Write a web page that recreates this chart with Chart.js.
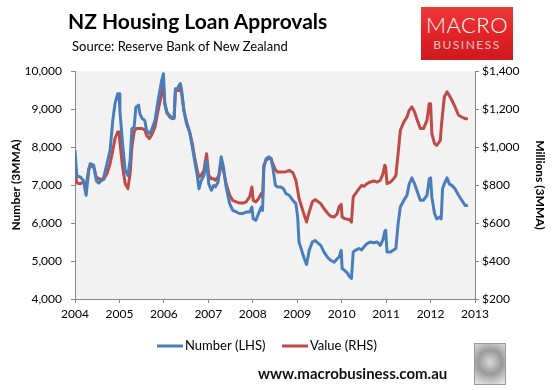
<!DOCTYPE html>
<html>
<head>
<meta charset="utf-8">
<script src="https://cdn.jsdelivr.net/npm/chart.js@4.4.1/dist/chart.umd.min.js"></script>
<style>
  body { margin: 0; background: #fff; }
  #wrap { position: relative; width: 553px; height: 390px; font-family: Lato, "Open Sans", sans-serif; color: #000; }
  #chart { position: absolute; left: 0; top: 0; }
  #title { position: absolute; left: 68px; top: 8px; font-size: 21px; font-weight: bold; white-space: nowrap; }
  #source { position: absolute; left: 72px; top: 38px; font-size: 13px; white-space: nowrap; }
  #logo { position: absolute; left: 421px; top: 7px; width: 92px; height: 53px;
          background: linear-gradient(180deg, #ee3a3a 0%, #e02126 55%, #cf1a1f 100%); text-align: center; }
  #logo .m { color: #fff; font-size: 22px; font-weight: 300; letter-spacing: 0.5px; margin-top: 7px; line-height: 22px; }
  #logo .b { color: #f6c2c2; font-size: 12px; letter-spacing: 1.5px; line-height: 14px; margin-top: 2px; }
  #site { position: absolute; left: 258px; top: 364px; font-size: 15px; font-weight: bold; white-space: nowrap; color: #111; }
  #wolf { position: absolute; left: 474px; top: 343px; width: 30px; height: 40px; border: 1px solid #9a9a9a;
          background: radial-gradient(circle at 50% 45%, #d8d8d8 0%, #9a9a9a 45%, #c8c8c8 75%, #eee 100%); }
</style>
</head>
<body>
<div id="wrap">
  <canvas id="chart" width="553" height="390"></canvas>
  <div id="title">NZ Housing Loan Approvals</div>
  <div id="source">Source: Reserve Bank of New Zealand</div>
  <div id="logo"><div class="m">MACRO</div><div class="b">BUSINESS</div></div>
  <div id="site">www.macrobusiness.com.au</div>
  <div id="wolf"></div>
</div>
<script>
// ===========================
// Data (3-month moving averages)
const years = [
  2004.00, 2004.04, 2004.12, 2004.19, 2004.25, 2004.31, 2004.34, 2004.42, 2004.48, 2004.53,
  2004.64, 2004.72, 2004.79, 2004.85, 2004.90, 2004.96, 2004.99, 2005.01, 2005.07, 2005.13,
  2005.19, 2005.24, 2005.28, 2005.33, 2005.37, 2005.43, 2005.46, 2005.51, 2005.57, 2005.61,
  2005.67, 2005.72, 2005.80, 2005.87, 2005.95, 2005.99, 2006.02, 2006.07, 2006.13, 2006.19,
  2006.23, 2006.26, 2006.30, 2006.34, 2006.37, 2006.40, 2006.45, 2006.51, 2006.58, 2006.64,
  2006.69, 2006.75, 2006.79, 2006.84, 2006.90, 2006.96, 2007.01, 2007.07, 2007.12, 2007.16,
  2007.22, 2007.25, 2007.29, 2007.34, 2007.40, 2007.48, 2007.55, 2007.63, 2007.70, 2007.78,
  2007.85, 2007.93, 2007.98, 2008.01, 2008.07, 2008.13, 2008.19, 2008.22, 2008.25, 2008.30,
  2008.36, 2008.41, 2008.45, 2008.51, 2008.56, 2008.63, 2008.69, 2008.75, 2008.82, 2008.90,
  2008.97, 2009.01, 2009.04, 2009.10, 2009.16, 2009.21, 2009.27, 2009.34, 2009.40, 2009.48,
  2009.53, 2009.60, 2009.68, 2009.75, 2009.83, 2009.90, 2009.94, 2009.99, 2010.01, 2010.07,
  2010.13, 2010.18, 2010.22, 2010.26, 2010.31, 2010.39, 2010.45, 2010.50, 2010.57, 2010.65,
  2010.72, 2010.80, 2010.87, 2010.93, 2010.97, 2010.99, 2011.02, 2011.10, 2011.17, 2011.22,
  2011.27, 2011.32, 2011.40, 2011.47, 2011.52, 2011.58, 2011.64, 2011.69, 2011.77, 2011.84,
  2011.92, 2011.97, 2012.00, 2012.03, 2012.09, 2012.14, 2012.22, 2012.24, 2012.27, 2012.31,
  2012.37, 2012.42, 2012.48, 2012.55, 2012.63, 2012.70, 2012.78, 2012.84
];

const numberLHS = [
  7910, 7250, 7210, 7120, 6730, 7385, 7560, 7520, 7120, 7050,
  7170, 7560, 7910, 8700, 9140, 9400, 9400, 8960, 8090, 7385,
  7250, 7650, 8480, 8520, 9050, 9100, 8880, 8750, 8700, 8440,
  8350, 8440, 8700, 9230, 9750, 9930, 9140, 8880, 8830, 8750,
  8750, 9530, 9530, 9620, 9670, 9490, 8960, 8610, 8390, 8000,
  7650, 7250, 6900, 7120, 7250, 7650, 7030, 6860, 6990, 6950,
  7080, 7385, 7740, 7470, 6950, 6510, 6330, 6290, 6250, 6250,
  6290, 6290, 6420, 6110, 6070, 6250, 6420, 6330, 7470, 7690,
  7740, 7700, 7470, 6990, 6950, 6950, 6900, 6770, 6730, 6600,
  6510, 6160, 5500, 5280, 5060, 4910, 5280, 5500, 5540, 5460,
  5410, 5240, 5100, 5020, 4970, 5060, 5100, 5280, 4800, 4750,
  4680, 4580, 4540, 5240, 5280, 5330, 5290, 5370, 5460, 5500,
  5480, 5500, 5410, 5560, 5780, 5810, 5240, 5240, 5290, 5330,
  5980, 6420, 6600, 6730, 7030, 7190, 7030, 6860, 6600, 6600,
  6730, 7160, 7190, 6680, 6250, 6110, 6160, 6110, 6900, 7030,
  7190, 7030, 6990, 6900, 6730, 6600, 6460, 6460
];

const valueRHS = [
  877, 811, 807, 816, 793, 886, 898, 895, 842, 833,
  828, 860, 912, 982, 1044, 1079, 1079, 1026, 895, 807,
  781, 860, 1000, 1079, 1097, 1097, 1097, 1097, 1090, 1061,
  1044, 1061, 1105, 1193, 1281, 1325, 1228, 1184, 1158, 1149,
  1158, 1298, 1298, 1298, 1307, 1281, 1193, 1132, 1079, 1018,
  947, 877, 842, 851, 877, 965, 851, 833, 833, 825,
  842, 860, 912, 877, 807, 746, 719, 711, 705, 705,
  711, 737, 790, 719, 711, 728, 755, 737, 904, 930,
  939, 939, 912, 880, 868, 868, 868, 870, 877, 866,
  825, 772, 730, 684, 640, 605, 658, 711, 723, 711,
  702, 676, 653, 635, 632, 649, 684, 698, 632, 623,
  620, 617, 605, 737, 754, 781, 798, 793, 807, 816,
  821, 816, 825, 860, 904, 895, 807, 816, 833, 851,
  965, 1088, 1132, 1158, 1193, 1211, 1184, 1149, 1097, 1097,
  1140, 1228, 1228, 1070, 1018, 1009, 1035, 1100, 1175, 1263,
  1290, 1272, 1246, 1211, 1167, 1158, 1149, 1149
];

const seriesLabels = ["Number (LHS)", "Value (RHS)"];
const seriesColors = ["#4a7ebb", "#be4b48"];
const axisGray = "#868686";
const fontFamily = "Lato, 'Open Sans', sans-serif";

// ===========================
// Plot background + legend
const plotBackground = {
  id: "plotBackground",
  beforeDraw(chart) {
    const { ctx, chartArea: a } = chart;
    ctx.save();
    ctx.fillStyle = "#f2f2f2";
    ctx.fillRect(a.left, a.top, a.right - a.left, a.bottom - a.top);
    ctx.restore();
  }
};

const bottomLegend = {
  id: "bottomLegend",
  afterDraw(chart) {
    const { ctx } = chart;
    const spots = [157, 282];
    ctx.save();
    ctx.font = "13px " + fontFamily;
    ctx.textBaseline = "middle";
    chart.data.datasets.forEach((ds, i) => {
      const x = spots[i];
      ctx.strokeStyle = ds.borderColor;
      ctx.lineWidth = 3;
      ctx.beginPath();
      ctx.moveTo(x, 346);
      ctx.lineTo(x + 26, 346);
      ctx.stroke();
      ctx.fillStyle = "#000";
      ctx.fillText(ds.label, x + 28, 346);
    });
    ctx.restore();
  }
};

const toPoints = vals => vals.map((v, i) => ({ x: years[i], y: v }));

new Chart(document.getElementById("chart"), {
  type: "line",
  plugins: [plotBackground, bottomLegend],
  data: {
    datasets: [
      { label: seriesLabels[0], data: toPoints(numberLHS), yAxisID: "y", borderColor: seriesColors[0] },
      { label: seriesLabels[1], data: toPoints(valueRHS), yAxisID: "y1", borderColor: seriesColors[1] }
    ]
  },
  options: {
    responsive: false,
    animation: false,
    devicePixelRatio: 1,
    layout: { padding: { top: 71 } },
    elements: {
      point: { radius: 0 },
      line: { borderWidth: 3, tension: 0, borderJoinStyle: "round" }
    },
    plugins: { legend: { display: false }, tooltip: { enabled: false } },
    scales: {
      x: {
        type: "linear",
        min: 2004,
        max: 2013,
        afterFit: s => { s.height = 91; },
        border: { color: axisGray },
        grid: { drawOnChartArea: false, tickLength: 4, color: axisGray },
        ticks: { stepSize: 1, padding: 4, color: "#000", font: { family: fontFamily, size: 12 }, callback: v => String(v), maxRotation: 0 }
      },
      y: {
        position: "left",
        min: 4000,
        max: 10000,
        afterFit: s => { s.width = 75; },
        border: { color: axisGray },
        grid: { drawOnChartArea: false, tickLength: 4, color: axisGray },
        ticks: { stepSize: 1000, padding: 9, color: "#000", font: { family: fontFamily, size: 12 },
                 callback: v => v.toLocaleString("en-US") },
        title: { display: true, text: "Number (3MMA)", color: "#000", padding: { top: 9 },
                 font: { family: fontFamily, size: 12, weight: "bold" } }
      },
      y1: {
        position: "right",
        min: 200,
        max: 1400,
        afterFit: s => { s.width = 78; },
        border: { color: axisGray },
        grid: { drawOnChartArea: false, tickLength: 4, color: axisGray },
        ticks: { stepSize: 200, padding: 3, color: "#000", font: { family: fontFamily, size: 12 },
                 callback: v => "$" + v.toLocaleString("en-US") },
        title: { display: true, text: "Millions (3MMA)", color: "#000", padding: { top: 6 },
                 font: { family: fontFamily, size: 12, weight: "bold" } }
      }
    }
  }
});
</script>
</body>
</html>
